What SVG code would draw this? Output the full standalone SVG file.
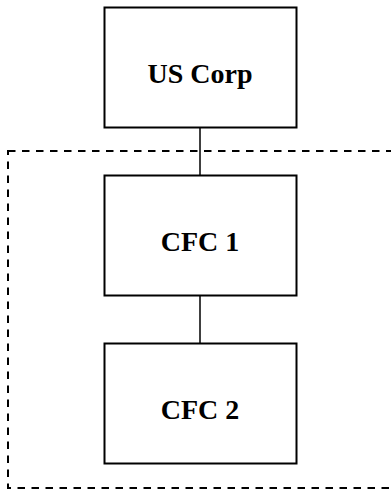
<svg xmlns="http://www.w3.org/2000/svg" width="391" height="489" viewBox="0 0 391 489">
<style>
.box{fill:#fff;stroke:#000;stroke-width:2}
.lbl{font-family:"Liberation Serif","DejaVu Serif",serif;font-weight:bold;font-size:28px;text-anchor:middle;fill:#000}
.conn{stroke:#000;stroke-width:1.5;fill:none}
.grp{fill:none;stroke:#000;stroke-width:2;stroke-dasharray:7.5,6.5}
</style>
<rect id="group-boundary" class="grp" x="8" y="151" width="400" height="337"/>
<g id="connectors">
<line class="conn" x1="200" y1="127" x2="200" y2="176"/>
<line class="conn" x1="200" y1="296" x2="200" y2="344"/>
</g>
<g id="us-corp">
<rect class="box" x="104.5" y="7.5" width="192" height="120"/>
<text class="lbl" x="200" y="82.5">US Corp</text>
</g>
<g id="cfc1">
<rect class="box" x="104.5" y="175.5" width="192" height="120"/>
<text class="lbl" x="200" y="250.5">CFC 1</text>
</g>
<g id="cfc2">
<rect class="box" x="104.5" y="343.5" width="192" height="120"/>
<text class="lbl" x="200" y="418.5">CFC 2</text>
</g>
</svg>
